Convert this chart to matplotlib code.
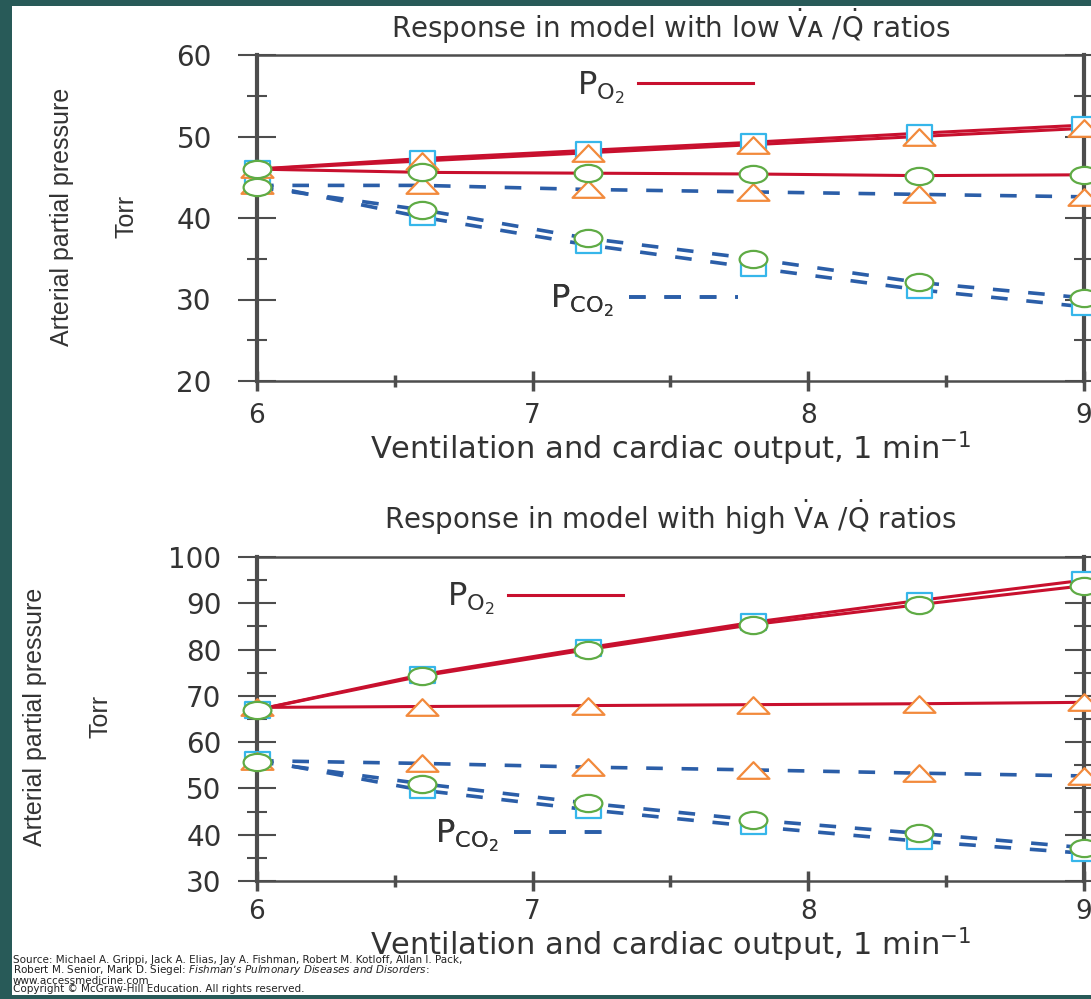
import matplotlib.pyplot as plt
from matplotlib.path import Path
from matplotlib.transforms import Affine2D
from matplotlib.patches import Rectangle
from matplotlib.lines import Line2D

plt.rcParams["font.family"] = ["DejaVu Sans"]
plt.rcParams["mathtext.fontset"] = "dejavusans"

x = [6, 6.6, 7.2, 7.8, 8.4, 9]

# model with low VA/Q ratios
low_po2_sq = [46.0, 47.3, 48.3, 49.3, 50.4, 51.4]
low_po2_tri = [46.0, 47.0, 48.0, 49.0, 50.0, 51.0]
low_po2_circ = [46.0, 45.6, 45.5, 45.4, 45.2, 45.3]
low_pco2_tri = [44.0, 44.0, 43.5, 43.2, 42.9, 42.6]
low_pco2_circ = [43.8, 41.0, 37.5, 35.0, 32.1, 30.2]
low_pco2_sq = [44.2, 40.1, 36.7, 33.9, 31.2, 29.1]

# model with high VA/Q ratios
high_po2_sq = [67.0, 74.6, 80.4, 85.9, 90.6, 95.0]
high_po2_circ = [67.0, 74.3, 80.0, 85.4, 89.7, 93.8]
high_po2_tri = [67.5, 67.7, 67.9, 68.1, 68.3, 68.6]
high_pco2_tri = [56.0, 55.4, 54.6, 54.0, 53.3, 52.7]
high_pco2_circ = [55.8, 51.0, 46.8, 43.2, 40.3, 37.2]
high_pco2_sq = [56.2, 49.6, 45.4, 41.8, 38.6, 36.0]

RED = "#c8102e"
BLUE = "#2b5ea8"
CYAN = "#36b6ea"
ORANGE = "#f28a3c"
GREEN = "#5fab45"
GRAY = "#4d4d4d"
TEXT = "#333333"

# markers in the figure are flattened, so build them as paths
ellipse = Path.unit_circle().transformed(Affine2D().scale(1.0, 0.62))
triangle = Path([(-1, -0.52), (1, -0.52), (0, 0.52), (-1, -0.52)],
                [Path.MOVETO, Path.LINETO, Path.LINETO, Path.CLOSEPOLY])
square = Path([(-1, -0.66), (1, -0.66), (1, 0.66), (-1, 0.66), (-1, -0.66)],
              [Path.MOVETO, Path.LINETO, Path.LINETO, Path.LINETO, Path.CLOSEPOLY])

fig = plt.figure(figsize=(10.91, 9.99), dpi=100, facecolor="#285a58")
fig.patches.append(Rectangle((12 / 1091, 4 / 999), 1, 1 - 10 / 999,
                             transform=fig.transFigure, facecolor="white",
                             edgecolor="none", zorder=-1))

ax1 = fig.add_axes([257 / 1091, 1 - 381 / 999, 827 / 1091, 326 / 999])
ax2 = fig.add_axes([257 / 1091, 1 - 881 / 999, 827 / 1091, 324 / 999])


def draw(ax, po2, pco2):
    for ys, mk in po2:
        ax.plot(x, ys, color=RED, lw=2.2, zorder=2)
    for ys, mk in pco2:
        ax.plot(x, ys, color=BLUE, lw=2.6, dashes=(4.6, 5.2), zorder=2)
    styles = {"s": (square, CYAN, 18, 3), "t": (triangle, ORANGE, 23, 4),
              "c": (ellipse, GREEN, 20, 5)}
    for key in ["s", "t", "c"]:
        path, col, ms, z = styles[key]
        for ys, mk in po2 + pco2:
            if mk == key:
                ax.plot(x, ys, ls="none", marker=path, ms=ms, mfc="white",
                        mec=col, mew=1.6, zorder=z, clip_on=False)


draw(ax1,
     [(low_po2_sq, "s"), (low_po2_tri, "t"), (low_po2_circ, "c")],
     [(low_pco2_tri, "t"), (low_pco2_circ, "c"), (low_pco2_sq, "s")])
draw(ax2,
     [(high_po2_sq, "s"), (high_po2_circ, "c"), (high_po2_tri, "t")],
     [(high_pco2_tri, "t"), (high_pco2_circ, "c"), (high_pco2_sq, "s")])

ax1.set_ylim(20, 60)
ax1.set_yticks([20, 30, 40, 50, 60])
ax1.set_yticks([25, 35, 45, 55], minor=True)
ax2.set_ylim(30, 100)
ax2.set_yticks(range(30, 101, 10))
ax2.set_yticks(range(35, 100, 10), minor=True)

for ax, ypad, xpad in [(ax1, 19, 9), (ax2, 12, 6)]:
    ax.set_xlim(6, 9)
    ax.set_xticks([6, 7, 8, 9])
    ax.set_xticks([6.5, 7.5, 8.5], minor=True)
    for side in ["left", "right"]:
        ax.spines[side].set_linewidth(3)
        ax.spines[side].set_color(GRAY)
    for side in ["top", "bottom"]:
        ax.spines[side].set_linewidth(1.8)
        ax.spines[side].set_color(GRAY)
    ax.tick_params(axis="y", which="major", direction="inout", length=27,
                   width=1.5, color=GRAY, labelsize=20, labelcolor=TEXT,
                   pad=ypad, right=True)
    ax.tick_params(axis="y", which="minor", direction="inout", length=14,
                   width=1.5, color=GRAY, right=True)
    ax.tick_params(axis="x", which="major", direction="inout", length=14,
                   width=2.5, color=GRAY, labelsize=19, labelcolor=TEXT,
                   pad=xpad)
    ax.tick_params(axis="x", which="minor", direction="inout", length=8,
                   width=2.5, color=GRAY)
    ax.set_xlabel(r"Ventilation and cardiac output, 1 min$^{-1}$",
                  fontsize=22, color=TEXT, labelpad=0)

ax1.set_title(r"Response in model with low $\dot{\mathrm{V}}$ᴀ /$\dot{\mathrm{Q}}$ ratios",
              fontsize=20, color=TEXT, pad=12.5)
ax2.set_title(r"Response in model with high $\dot{\mathrm{V}}$ᴀ /$\dot{\mathrm{Q}}$ ratios",
              fontsize=20, color=TEXT, pad=20)

po2_label = r"$\mathrm{P_{O_2}}$"
pco2_label = r"$\mathrm{P_{CO_2}}$"


def key(ax, label, handle, anchor, hl, tp):
    leg = ax.legend([handle], [label], loc="center left", bbox_to_anchor=anchor,
                    frameon=False, markerfirst=False, handlelength=hl,
                    handletextpad=tp, borderpad=0, borderaxespad=0,
                    fontsize=23, labelcolor=TEXT)
    ax.add_artist(leg)


red_line = Line2D([], [], color=RED, lw=2.2)
blue_line = Line2D([], [], color=BLUE, lw=2.6, dashes=(4.6, 5.2))
key(ax1, po2_label, red_line, (0.387, 0.9), 3.6, 0.4)
key(ax1, pco2_label, blue_line, (0.354, 0.245), 3.4, 0.5)
key(ax2, po2_label, red_line, (0.230, 0.87), 3.6, 0.4)
key(ax2, pco2_label, blue_line, (0.215, 0.138), 3.2, 0.5)

ylab_font = dict(rotation=90, ha="center", va="center", color=TEXT,
                 family="Liberation Sans", fontsize=18)
fig.text(62 / 1091, 1 - 217 / 999, "Arterial partial pressure", **ylab_font)
fig.text(127 / 1091, 1 - 216 / 999, "Torr", **ylab_font)
fig.text(35 / 1091, 1 - 717 / 999, "Arterial partial pressure", **ylab_font)
fig.text(100 / 1091, 1 - 716 / 999, "Torr", **ylab_font)

source = ("Source: Michael A. Grippi, Jack A. Elias, Jay A. Fishman, Robert M. Kotloff, Allan I. Pack,\n"
          r"Robert M. Senior, Mark D. Siegel: $\mathit{Fishman’s\ Pulmonary\ Diseases\ and\ Disorders}$:" "\n"
          "www.accessmedicine.com\n"
          "Copyright © McGraw-Hill Education. All rights reserved.")
fig.text(13 / 1091, 5 / 999, source, fontsize=7.5, color="#222222",
         ha="left", va="bottom", linespacing=0.8)

fig.savefig("out.png", dpi=100, facecolor=fig.get_facecolor())
